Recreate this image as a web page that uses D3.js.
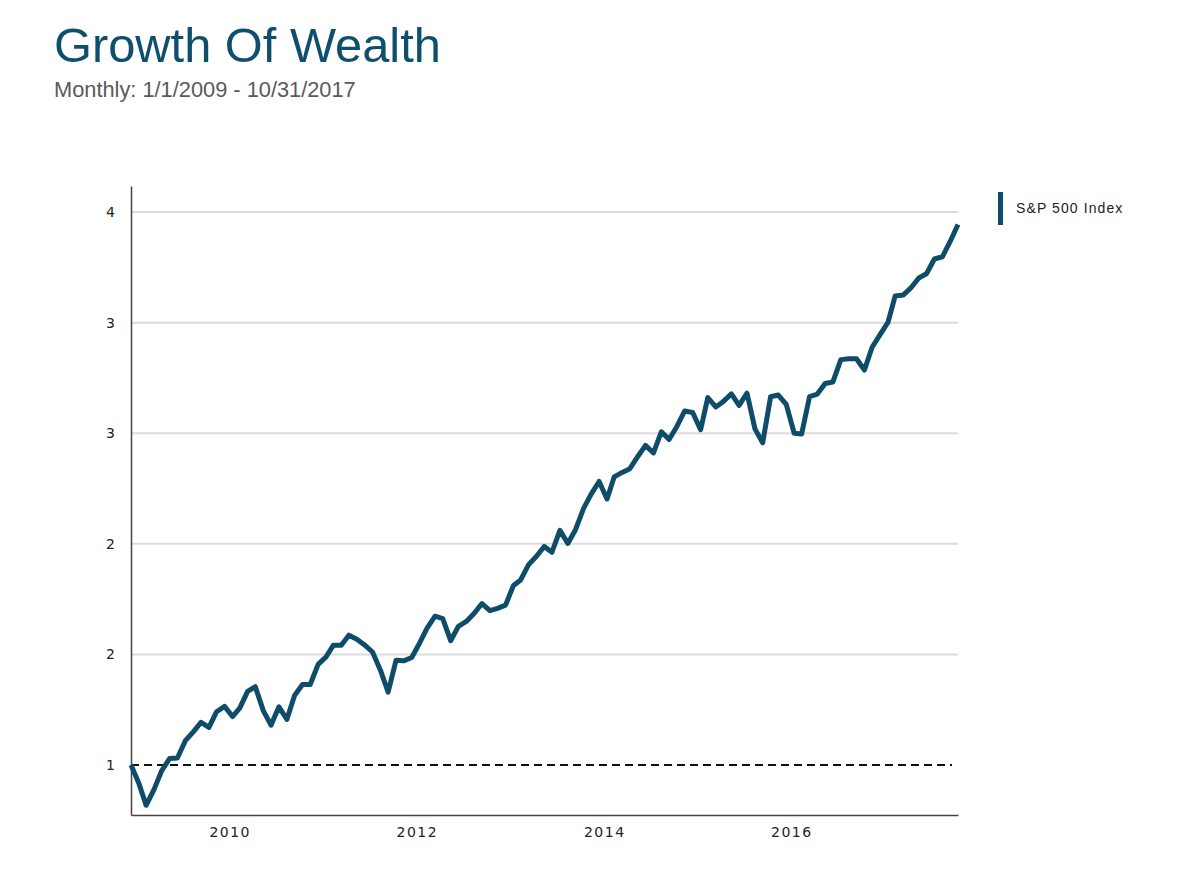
<!DOCTYPE html>
<html>
<head>
<meta charset="utf-8">
<script src="https://cdn.jsdelivr.net/npm/d3@7"></script>
<style>
  body { margin: 0; background: #fff; }
  .title { font-family: "Liberation Sans", Arial, sans-serif; }
  .tick text { font-family: "DejaVu Sans", Verdana, sans-serif; fill: #222; }
</style>
</head>
<body>
<div id="graph"></div>
<script>
var width = 1200;
var height = 892;

// growth of $1, month-end values, Dec 2008 .. Oct 2017
var v2008 = [1.000];
var v2009 = [0.916, 0.818, 0.890, 0.975, 1.030, 1.032, 1.110, 1.150, 1.193, 1.170, 1.241, 1.265];
var v2010 = [1.219, 1.257, 1.333, 1.354, 1.246, 1.180, 1.263, 1.206, 1.314, 1.364, 1.364, 1.455];
var v2011 = [1.489, 1.541, 1.541, 1.587, 1.569, 1.543, 1.511, 1.429, 1.329, 1.474, 1.471, 1.486];
var v2012 = [1.552, 1.619, 1.673, 1.662, 1.562, 1.627, 1.649, 1.686, 1.730, 1.698, 1.708, 1.723];
var v2013 = [1.812, 1.837, 1.906, 1.943, 1.988, 1.962, 2.061, 2.002, 2.064, 2.159, 2.225, 2.282];
var v2014 = [2.203, 2.303, 2.323, 2.340, 2.395, 2.445, 2.411, 2.507, 2.472, 2.532, 2.601, 2.594];
var v2015 = [2.516, 2.661, 2.619, 2.644, 2.678, 2.626, 2.681, 2.520, 2.457, 2.665, 2.673, 2.631];
var v2016 = [2.500, 2.497, 2.666, 2.677, 2.725, 2.732, 2.833, 2.837, 2.837, 2.786, 2.889, 2.946];
var v2017 = [3.002, 3.121, 3.125, 3.157, 3.202, 3.221, 3.288, 3.298, 3.366, 3.444];

var yearBlocks = [
  {year: 2008, firstMonth: 11, values: v2008},
  {year: 2009, firstMonth: 0, values: v2009},
  {year: 2010, firstMonth: 0, values: v2010},
  {year: 2011, firstMonth: 0, values: v2011},
  {year: 2012, firstMonth: 0, values: v2012},
  {year: 2013, firstMonth: 0, values: v2013},
  {year: 2014, firstMonth: 0, values: v2014},
  {year: 2015, firstMonth: 0, values: v2015},
  {year: 2016, firstMonth: 0, values: v2016},
  {year: 2017, firstMonth: 0, values: v2017}
];

var yTickValues = [1, 1.5, 2, 2.5, 3, 3.5];
var yTickLabels = ["1", "2", "2", "3", "3", "4"];
var xTickYears = [2010, 2012, 2014, 2016];
var yDomain = [0.774, 3.618];
var seriesName = "S&P 500 Index";

var data = [];
yearBlocks.forEach(function(b) {
  b.values.forEach(function(v, i) {
    // last day of the month
    data.push({date: new Date(b.year, b.firstMonth + i + 1, 0), value: v});
  });
});

var margin = {left: 131, right: 242, top: 186, bottom: 77};
var color = "#0e4c69";

var svg = d3.select('#graph')
  .append('svg')
  .attr('width', width)
  .attr('height', height);

svg.append('text')
  .attr('class', 'title')
  .attr('x', 54)
  .attr('y', 62)
  .attr('font-size', 48.8)
  .attr('fill', '#0f4f6e')
  .text('Growth Of Wealth');

svg.append('text')
  .attr('class', 'title')
  .attr('x', 54)
  .attr('y', 97)
  .attr('font-size', 21.8)
  .attr('fill', '#5a5a5a')
  .text('Monthly: 1/1/2009 - 10/31/2017');

var x = d3.scaleTime()
  .domain(d3.extent(data, function(d) { return d.date; }))
  .range([margin.left, width - margin.right]);

var y = d3.scaleLinear()
  .domain(yDomain)
  .range([height - margin.bottom, margin.top]);

// grid
svg.append('g')
  .selectAll('line')
  .data(yTickValues.filter(function(d) { return d !== 1; }))
  .enter()
  .append('line')
  .attr('x1', margin.left)
  .attr('x2', width - margin.right)
  .attr('y1', function(d) { return y(d); })
  .attr('y2', function(d) { return y(d); })
  .attr('stroke', '#dcdcdc')
  .attr('stroke-width', 2);

// baseline at 1
svg.append('line')
  .attr('x1', margin.left)
  .attr('x2', width - margin.right - 6)
  .attr('y1', y(1))
  .attr('y2', y(1))
  .attr('stroke', '#111')
  .attr('stroke-width', 1.8)
  .attr('stroke-dasharray', '8,5');

var yAxis = d3.axisLeft(y)
  .tickValues(yTickValues)
  .tickSize(0)
  .tickPadding(16)
  .tickFormat(function(d, i) { return yTickLabels[i]; });

var gy = svg.append('g')
  .attr('transform', 'translate(' + margin.left + ',0)')
  .call(yAxis);
gy.select('.domain').attr('stroke', '#444').attr('stroke-width', 1.5);
gy.selectAll('text').attr('font-size', 14);

var xAxis = d3.axisBottom(x)
  .tickValues(xTickYears.map(function(yr) { return new Date(yr, 0, 20); }))
  .tickSize(0)
  .tickPadding(12)
  .tickFormat(d3.timeFormat('%Y'));

var gx = svg.append('g')
  .attr('transform', 'translate(0,' + (height - margin.bottom) + ')')
  .call(xAxis);
gx.select('.domain').attr('stroke', '#444').attr('stroke-width', 1.5);
gx.selectAll('text').attr('font-size', 14).attr('letter-spacing', 1.5);

var line = d3.line()
  .x(function(d) { return x(d.date); })
  .y(function(d) { return y(d.value); });

svg.append('path')
  .datum(data)
  .attr('fill', 'none')
  .attr('stroke', color)
  .attr('stroke-width', 5)
  .attr('stroke-linejoin', 'round')
  .attr('d', line);

// legend
var legend = svg.append('g').attr('transform', 'translate(998,192)');
legend.append('rect')
  .attr('width', 5)
  .attr('height', 33)
  .attr('fill', color);
legend.append('text')
  .attr('x', 18)
  .attr('y', 21)
  .attr('font-family', '"Liberation Sans", Arial, sans-serif')
  .attr('font-size', 14)
  .attr('letter-spacing', 1.1)
  .attr('fill', '#222')
  .text(seriesName);
</script>
</body>
</html>
